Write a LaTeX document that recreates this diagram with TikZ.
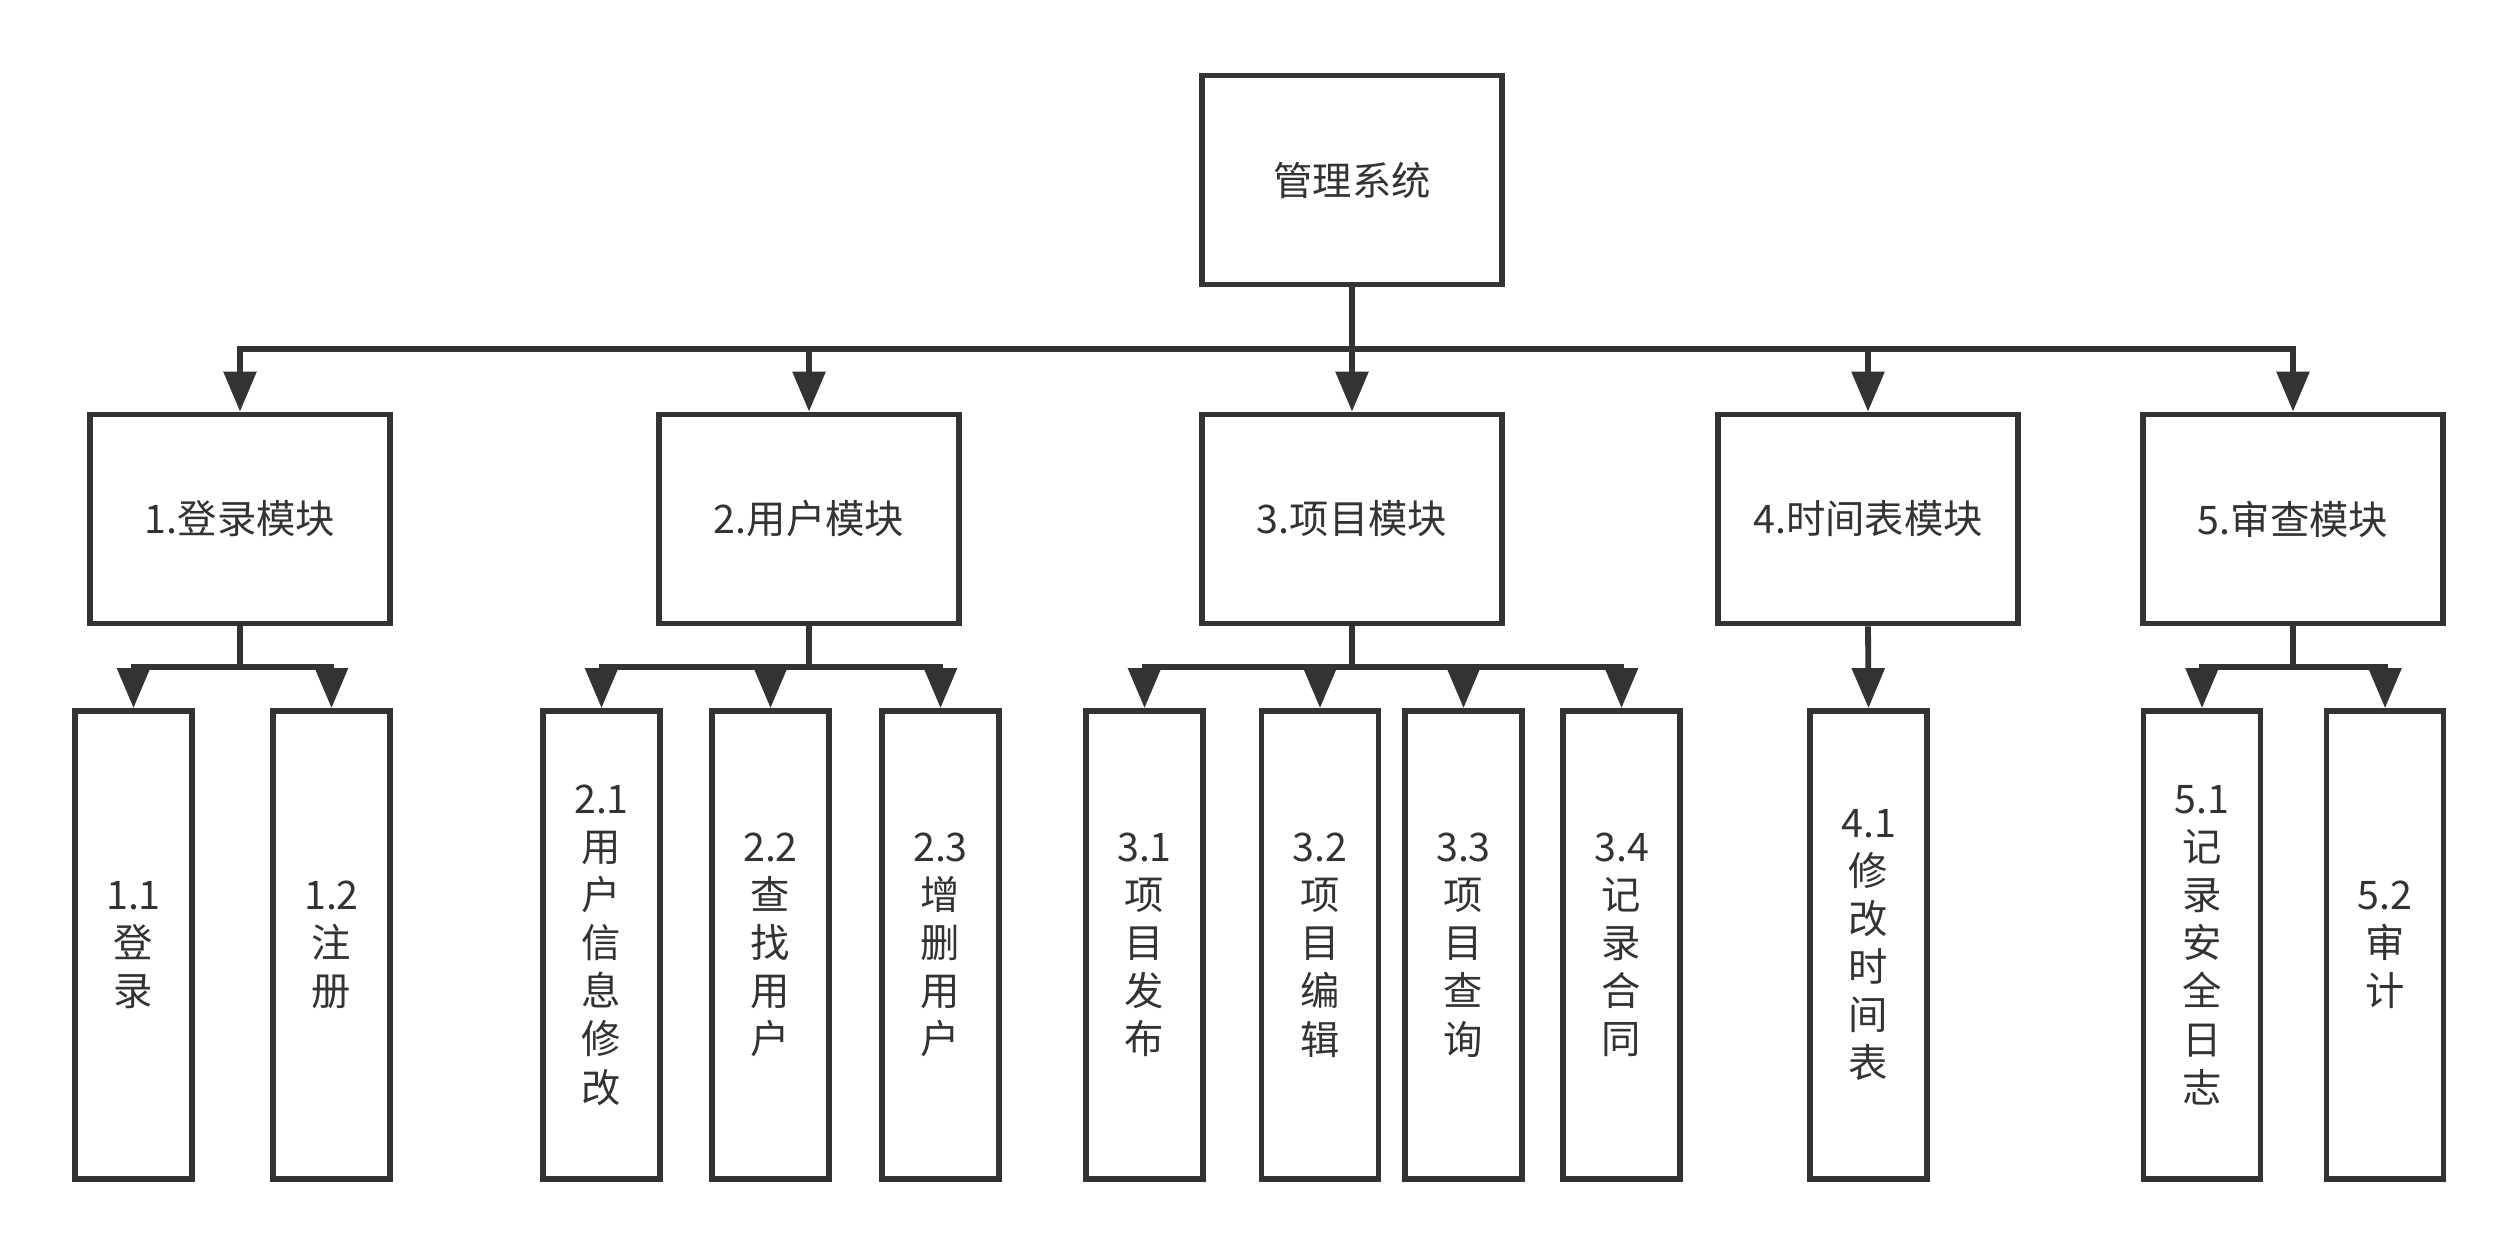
\documentclass[tikz,border=0pt]{standalone}
\usepackage{fontspec}
\usepackage{xcolor}
\usepackage{tikz}
\usetikzlibrary{positioning, arrows.meta}
\newfontfamily\cjk{Noto Sans CJK SC}
\definecolor{linecolor}{HTML}{333333}
\tikzset{
    sysnode/.style  = {draw=linecolor, line width=0.058cm, fill=white, align=center,
                       text=linecolor, font=\cjk\fontsize{11.2}{13.7}\selectfont,
                       minimum width=3.0cm, minimum height=2.09cm, inner sep=0pt},
    modnode/.style  = {sysnode},
    leafnode/.style = {sysnode, minimum width=1.17cm, minimum height=4.68cm},
    edge/.style     = {draw=linecolor, line width=0.058cm,
                       -{Triangle[length=0.40cm, width=0.32cm]}},
}
\begin{document}
\begin{tikzpicture}

\fill[white] (0,0) rectangle (25.18,-12.54);

\node[sysnode] (sys) at (13.52,-1.80) {管理系统};

% modules
\node[modnode] (m1) at (2.40,-5.19)  {1.登录模块};
\node[modnode] (m2) at (8.09,-5.19)  {2.用户模块};
\node[modnode] (m3) at (13.52,-5.19) {3.项目模块};
\node[modnode] (m4) at (18.68,-5.19) {4.时间表模块};
\node[modnode] (m5) at (22.93,-5.19) {5.审查模块};

% functions
\node[leafnode] (f11) at (1.335,-9.45) {1.1\\登\\录};
\node[leafnode] (f12) at (3.315,-9.45) {1.2\\注\\册};
\node[leafnode] (f21) at (6.015,-9.45) {2.1\\用\\户\\信\\息\\修\\改};
\node[leafnode] (f22) at (7.705,-9.45) {2.2\\查\\找\\用\\户};
\node[leafnode] (f23) at (9.405,-9.45) {2.3\\增\\删\\用\\户};
\node[leafnode] (f31) at (11.445,-9.45) {3.1\\项\\目\\发\\布};
\node[leafnode] (f32) at (13.20,-9.45) {3.2\\项\\目\\编\\辑};
\node[leafnode] (f33) at (14.635,-9.45) {3.3\\项\\目\\查\\询};
\node[leafnode] (f34) at (16.215,-9.45) {3.4\\记\\录\\合\\同};
\node[leafnode] (f41) at (18.685,-9.45) {4.1\\修\\改\\时\\间\\表};
\node[leafnode] (f51) at (22.02,-9.45) {5.1\\记\\录\\安\\全\\日\\志};
\node[leafnode] (f52) at (23.85,-9.45) {5.2\\审\\计};

\draw[edge] (sys.south) -- ++(0,-0.62) -| (m1.north);
\draw[edge] (sys.south) -- ++(0,-0.62) -| (m2.north);
\draw[edge] (sys.south) -- ++(0,-0.62) -| (m3.north);
\draw[edge] (sys.south) -- ++(0,-0.62) -| (m4.north);
\draw[edge] (sys.south) -- ++(0,-0.62) -| (m5.north);

\draw[edge] (m1.south) -- ++(0,-0.41) -| (f11.north);
\draw[edge] (m1.south) -- ++(0,-0.41) -| (f12.north);
\draw[edge] (m2.south) -- ++(0,-0.41) -| (f21.north);
\draw[edge] (m2.south) -- ++(0,-0.41) -| (f22.north);
\draw[edge] (m2.south) -- ++(0,-0.41) -| (f23.north);
\draw[edge] (m3.south) -- ++(0,-0.41) -| (f31.north);
\draw[edge] (m3.south) -- ++(0,-0.41) -| (f32.north);
\draw[edge] (m3.south) -- ++(0,-0.41) -| (f33.north);
\draw[edge] (m3.south) -- ++(0,-0.41) -| (f34.north);
\draw[edge] (m4.south) -- (f41.north);
\draw[edge] (m5.south) -- ++(0,-0.41) -| (f51.north);
\draw[edge] (m5.south) -- ++(0,-0.41) -| (f52.north);

\end{tikzpicture}
\end{document}
